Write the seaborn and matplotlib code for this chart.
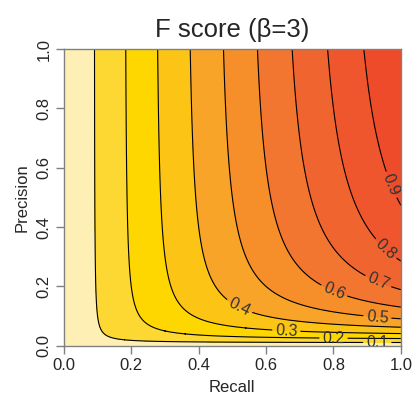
import matplotlib
matplotlib.use("Agg")
import matplotlib.pyplot as plt
import numpy as np
import seaborn as sns

# F-beta surface over the recall/precision grid
beta = 3
recall = np.linspace(0, 1, 301)
precision = np.linspace(0, 1, 301)
levels = [0.0, 0.1, 0.2, 0.3, 0.4, 0.5, 0.6, 0.7, 0.8, 0.9, 1.0]
line_levels = [0.1, 0.2, 0.3, 0.4, 0.5, 0.6, 0.7, 0.8, 0.9]
band_colors = ["#FEF0B4", "#FDD832", "#FFD700", "#FCC516", "#F7A428",
               "#F68E2A", "#F37630", "#F0642F", "#EF562D", "#EE4B2A"]

sns.set_style("white")
plt.rcParams['font.family'] = ['Liberation Sans', 'DejaVu Sans']

R, P = np.meshgrid(recall, precision)
with np.errstate(invalid='ignore', divide='ignore'):
    F = (1 + beta**2) * P * R / (beta**2 * P + R)
F = np.nan_to_num(F)

fig = plt.figure(figsize=(4.12, 4.03), dpi=100)
ax = fig.add_axes([0.155, 0.142, 0.818, 0.736])

ax.contourf(R, P, F, levels=levels, colors=band_colors)
cs = ax.contour(R, P, F, levels=line_levels, colors="black", linewidths=0.8)
label_spots = [(0.93, 0.01), (0.80, 0.023), (0.66, 0.047), (0.52, 0.13),
               (0.93, 0.094), (0.80, 0.18), (0.93, 0.21), (0.95, 0.32), (0.965, 0.54)]
ax.clabel(cs, fmt="%.1f", fontsize=11.5, colors="#333333", inline=True,
          inline_spacing=3, manual=label_spots)

ax.set_xlim(0, 1)
ax.set_ylim(0, 1)
ax.set_xticks([0.0, 0.2, 0.4, 0.6, 0.8, 1.0])
ax.set_yticks([0.0, 0.2, 0.4, 0.6, 0.8, 1.0])
ax.set_xticklabels(["0.0", "0.2", "0.4", "0.6", "0.8", "1.0"], fontsize=12)
ax.set_yticklabels(["0.0", "0.2", "0.4", "0.6", "0.8", "1.0"], fontsize=12,
                   rotation=90, va="center")
ax.tick_params(axis="both", direction="out", length=6, width=1, color="#808080",
               bottom=True, left=True, pad=3)
for s in ax.spines.values():
    s.set_color("#808080")
    s.set_linewidth(1)

ax.set_xlabel("Recall", fontsize=12, labelpad=5)
ax.set_ylabel("Precision", fontsize=12, labelpad=5)
ax.set_title("F score (β=3)", fontsize=18.5, pad=9)

fig.savefig("out.png", dpi=100)
